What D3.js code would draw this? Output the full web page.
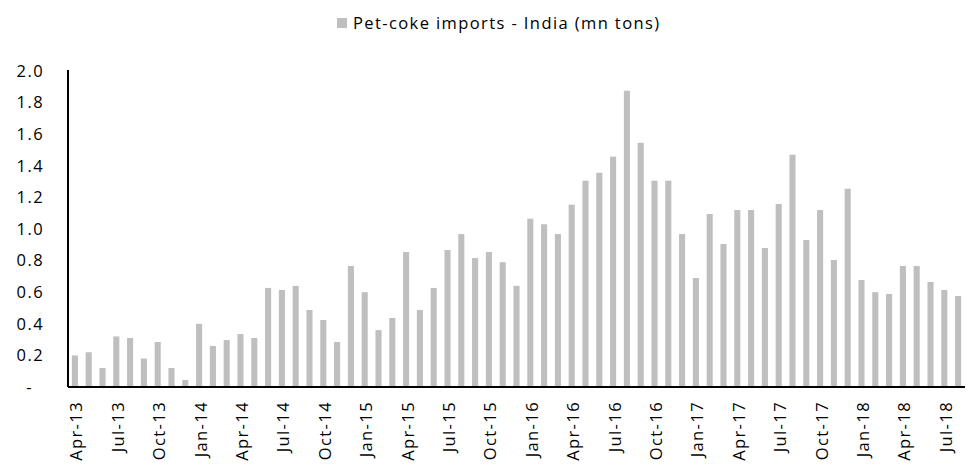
<!DOCTYPE html>
<html>
<head>
<meta charset="utf-8">
<script src="https://cdn.jsdelivr.net/npm/d3@7"></script>
<style>
  html, body { margin: 0; padding: 0; background: #fff; }
  svg { display: block; font-family: "Open Sans", "Noto Sans", sans-serif; }
</style>
</head>
<body>
<svg id="chart" width="970" height="468"></svg>
<script>
// Monthly pet-coke imports into India, million tons (Apr-13 .. Aug-18)
const months = [
  "Apr-13","May-13","Jun-13","Jul-13","Aug-13","Sep-13","Oct-13","Nov-13","Dec-13",
  "Jan-14","Feb-14","Mar-14","Apr-14","May-14","Jun-14","Jul-14","Aug-14","Sep-14","Oct-14","Nov-14","Dec-14",
  "Jan-15","Feb-15","Mar-15","Apr-15","May-15","Jun-15","Jul-15","Aug-15","Sep-15","Oct-15","Nov-15","Dec-15",
  "Jan-16","Feb-16","Mar-16","Apr-16","May-16","Jun-16","Jul-16","Aug-16","Sep-16","Oct-16","Nov-16","Dec-16",
  "Jan-17","Feb-17","Mar-17","Apr-17","May-17","Jun-17","Jul-17","Aug-17","Sep-17","Oct-17","Nov-17","Dec-17",
  "Jan-18","Feb-18","Mar-18","Apr-18","May-18","Jun-18","Jul-18","Aug-18"
];
const imports = [
  0.20, 0.22, 0.12, 0.32, 0.31, 0.18, 0.285, 0.12, 0.044,
  0.40, 0.26, 0.297, 0.335, 0.31, 0.627, 0.614, 0.64, 0.487, 0.424, 0.285, 0.766,
  0.60, 0.36, 0.437, 0.854, 0.487, 0.627, 0.867, 0.968, 0.816, 0.854, 0.79, 0.64,
  1.065, 1.03, 0.968, 1.154, 1.306, 1.356, 1.458, 1.875, 1.546, 1.306, 1.306, 0.968,
  0.69, 1.095, 0.905, 1.12, 1.12, 0.88, 1.158, 1.47, 0.93, 1.12, 0.804, 1.255,
  0.677, 0.60, 0.589, 0.766, 0.766, 0.665, 0.614, 0.576
];
const yTicks = [0, 0.2, 0.4, 0.6, 0.8, 1.0, 1.2, 1.4, 1.6, 1.8, 2.0];
const xTickLabels = months.filter((m, i) => i % 3 === 0);
const seriesName = "Pet-coke imports - India (mn tons)";

const svg = d3.select("#chart");
const margin = { left: 68, right: 5, top: 71, bottom: 81 };
const W = 970, H = 468;
const fontSize = 16.5;
const spacing = 1.4;

const x = d3.scaleBand()
  .domain(months)
  .range([margin.left, W - margin.right])
  .paddingInner(0.56)
  .paddingOuter(0.28);

const y = d3.scaleLinear()
  .domain([0, 2])
  .range([H - margin.bottom, margin.top]);

const barColor = "#bfbfbf";

// Bars
svg.append("g")
  .selectAll("rect")
  .data(months.map((m, i) => ({ m, v: imports[i] })))
  .join("rect")
  .attr("x", d => x(d.m))
  .attr("width", x.bandwidth())
  .attr("y", d => y(d.v))
  .attr("height", d => y(0) - y(d.v))
  .attr("fill", barColor);

// Y axis
const yAxis = svg.append("g")
  .attr("transform", `translate(${margin.left},0)`)
  .call(d3.axisLeft(y)
    .tickValues(yTicks)
    .tickSize(0)
    .tickPadding(24)
    .tickFormat(d => d === 0 ? "-" : d3.format(".1f")(d)));
yAxis.select(".domain")
  .attr("d", `M0,${y(0)}V${y(2) - 1}`)
  .attr("stroke", "#000")
  .attr("stroke-width", 2);
yAxis.selectAll("text")
  .attr("fill", "#000")
  .attr("font-size", fontSize)
  .attr("letter-spacing", spacing)
  .attr("font-family", "'Open Sans', 'Noto Sans', sans-serif");
yAxis.selectAll(".tick").filter(d => d === 0).select("text").attr("dx", -11);

// X axis
const xAxis = svg.append("g")
  .attr("transform", `translate(0,${y(0)})`)
  .call(d3.axisBottom(x)
    .tickValues(xTickLabels)
    .tickSize(0)
    .tickPadding(0));
xAxis.select(".domain")
  .attr("d", `M${margin.left},0H${W - margin.right}`)
  .attr("stroke", "#000")
  .attr("stroke-width", 2);
xAxis.selectAll("text")
  .attr("fill", "#000")
  .attr("font-size", fontSize)
  .attr("letter-spacing", spacing)
  .attr("font-family", "'Open Sans', 'Noto Sans', sans-serif")
  .attr("text-anchor", "end")
  .attr("dy", null)
  .attr("transform", "translate(1,14) rotate(-90)")
  .attr("dominant-baseline", "central");

// Legend
svg.append("text")
  .attr("x", 353)
  .attr("y", 29)
  .attr("font-size", fontSize)
  .attr("letter-spacing", spacing)
  .attr("fill", "#000")
  .text(seriesName);
svg.append("rect")
  .attr("x", 337)
  .attr("y", 18)
  .attr("width", 10)
  .attr("height", 10)
  .attr("fill", barColor);
</script>
</body>
</html>
